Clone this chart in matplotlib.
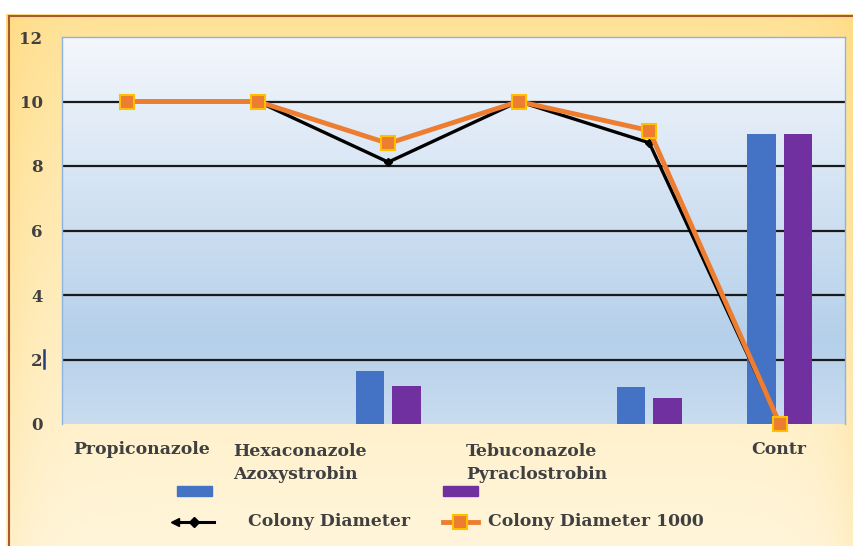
import numpy as np
import matplotlib
matplotlib.use("Agg")
import matplotlib.pyplot as plt
from matplotlib.colors import LinearSegmentedColormap
from matplotlib.patches import Rectangle
from matplotlib.lines import Line2D

# ---- data ----
categories = ["Propiconazole", "Hexaconazole", "Azoxystrobin",
              "Tebuconazole", "Pyraclostrobin", "Contr"]
bar_blue = [0, 0, 1.65, 0, 1.15, 9.0]
bar_purple = [0, 0, 1.18, 0, 0.80, 9.0]
colony_diameter = [10, 10, 8.12, 10, 8.72, 0]
colony_diameter_1000 = [10, 10, 8.70, 10, 9.10, 0]
y_ticks = [0, 2, 4, 6, 8, 10, 12]
line_labels = ["Colony Diameter", "Colony Diameter 1000"]

W, H = 854, 546
fig = plt.figure(figsize=(W / 100, H / 100), dpi=100)
fig.patch.set_facecolor("white")


def fx(px):
    return px / W


def fy(py):
    return 1 - py / H


# ---- chart area background (warm gradient with brown frame) ----
bg = fig.add_axes([fx(6), 0, 1 - fx(6), fy(14)])
bg.set_axis_off()
ny, nx = 300, 400
yy = np.linspace(0, 1, ny)[:, None]
xx = np.linspace(0, 1, nx)[None, :]
top = np.array([255, 226, 150]) / 255
bottom = np.array([255, 245, 218]) / 255
t = np.clip(yy ** 0.8, 0, 1)
img = top[None, None, :] * (1 - t[..., None]) + bottom[None, None, :] * t[..., None]
img = np.broadcast_to(img, (ny, nx, 3)).copy()
edge = np.exp(-xx / 0.03) + np.exp(-(1 - xx) / 0.03)
edge = np.clip(edge, 0, 1) * (1 - 0.6 * yy)
warm = np.array([255, 215, 120]) / 255
img = img * (1 - 0.6 * edge[..., None]) + warm * 0.6 * edge[..., None]
bg.imshow(img, aspect="auto", extent=[0, 1, 0, 1], zorder=0)
bg.set_xlim(0, 1)
bg.set_ylim(0, 1)
bg.plot([0.003, 0.003], [0, 0.997], color="#A65A2E", lw=1.5, zorder=2)
bg.plot([0.003, 1], [0.997, 0.997], color="#A65A2E", lw=1.5, zorder=2)

# ---- plot area ----
left, right, top_px, bot_px = 62, 845, 37, 424
ax = fig.add_axes([fx(left), fy(bot_px), fx(right - left), fy(top_px) - fy(bot_px)])
ax.set_xlim(-0.5, len(categories) - 0.5)
ax.set_ylim(0, 12)

grad_cmap = LinearSegmentedColormap.from_list(
    "plotbg", [(0.0, "#C9DCF0"), (0.22, "#B5D0EA"), (1.0, "#F4F7FC")])
grad = np.linspace(0, 1, 256)[:, None]
ax.imshow(grad, cmap=grad_cmap, aspect="auto", origin="lower",
          extent=[-0.5, len(categories) - 0.5, 0, 12], zorder=0)

for s in ax.spines.values():
    s.set_color("#8DB3E2")
    s.set_linewidth(1.0)
ax.spines["bottom"].set_visible(False)

# horizontal gridlines
for v in y_ticks[1:-1]:
    ax.axhline(v, color="#1A1A1A", lw=1.6, zorder=1)

x = np.arange(len(categories))
bw = 0.215
off = 0.14
ax.bar(x - off, bar_blue, width=bw, color="#4472C4", zorder=2)
ax.bar(x + off, bar_purple, width=bw, color="#7030A0", zorder=2)

ax.plot(x, colony_diameter, color="black", lw=2.4, marker="D", ms=4,
        markerfacecolor="black", markeredgecolor="black", zorder=3)
ax.plot(x, colony_diameter_1000, color="#ED7D31", lw=3.5, marker="s", ms=10,
        markerfacecolor="#ED7D31", markeredgecolor="#FFC000", mew=1.5,
        zorder=4, clip_on=False)

serif = "DejaVu Serif"
ax.set_yticks(y_ticks)
ax.set_yticklabels([str(v) for v in y_ticks])
ax.tick_params(axis="y", length=0, pad=14, labelsize=12, labelcolor="#404040")
for lab in ax.get_yticklabels():
    lab.set_fontfamily(serif)
    lab.set_fontweight("bold")
ax.set_xticks([])

# text cursor mark after the "2" label
fig.add_artist(Line2D([fx(44), fx(44)], [fy(350), fy(368)], color="#1F3B8C", lw=1.8))

# ---- category labels ----
font = dict(family=serif, weight="bold", size=12.4, color="#404040")
fig.text(fx(142), fy(450), categories[0], ha="center", va="center", **font)
fig.text(fx(233), fy(463), categories[1] + "\n" + categories[2], ha="left",
         va="center", linespacing=1.5, **font)
fig.text(fx(466), fy(463), categories[3] + "\n" + categories[4], ha="left",
         va="center", linespacing=1.5, **font)
fig.text(fx(779), fy(450), categories[5], ha="center", va="center", **font)

# ---- legend ----
fig.add_artist(Rectangle((fx(177), fy(496)), fx(35), fy(486) - fy(496),
                         color="#4472C4"))
fig.add_artist(Rectangle((fx(443), fy(496)), fx(35), fy(486) - fy(496),
                         color="#7030A0"))
fig.add_artist(Line2D([fx(174), fx(214)], [fy(522), fy(522)], color="black",
                      lw=2.2))
fig.add_artist(Line2D([fx(175)], [fy(522)], color="black", lw=0, marker="<", ms=6))
fig.add_artist(Line2D([fx(194)], [fy(522)], color="black", lw=0, marker="D", ms=5))
fig.add_artist(Line2D([fx(443), fx(478)], [fy(522), fy(522)], color="#ED7D31",
                      lw=3.5))
fig.add_artist(Line2D([fx(460.5)], [fy(522)], color="#ED7D31", lw=0, marker="s",
                      ms=10, markerfacecolor="#ED7D31", markeredgecolor="#FFC000",
                      mew=1.5))
fig.text(fx(248), fy(521), line_labels[0], ha="left", va="center", **font)
fig.text(fx(488), fy(521), line_labels[1], ha="left", va="center", **font)

fig.savefig("out.png", dpi=100)
